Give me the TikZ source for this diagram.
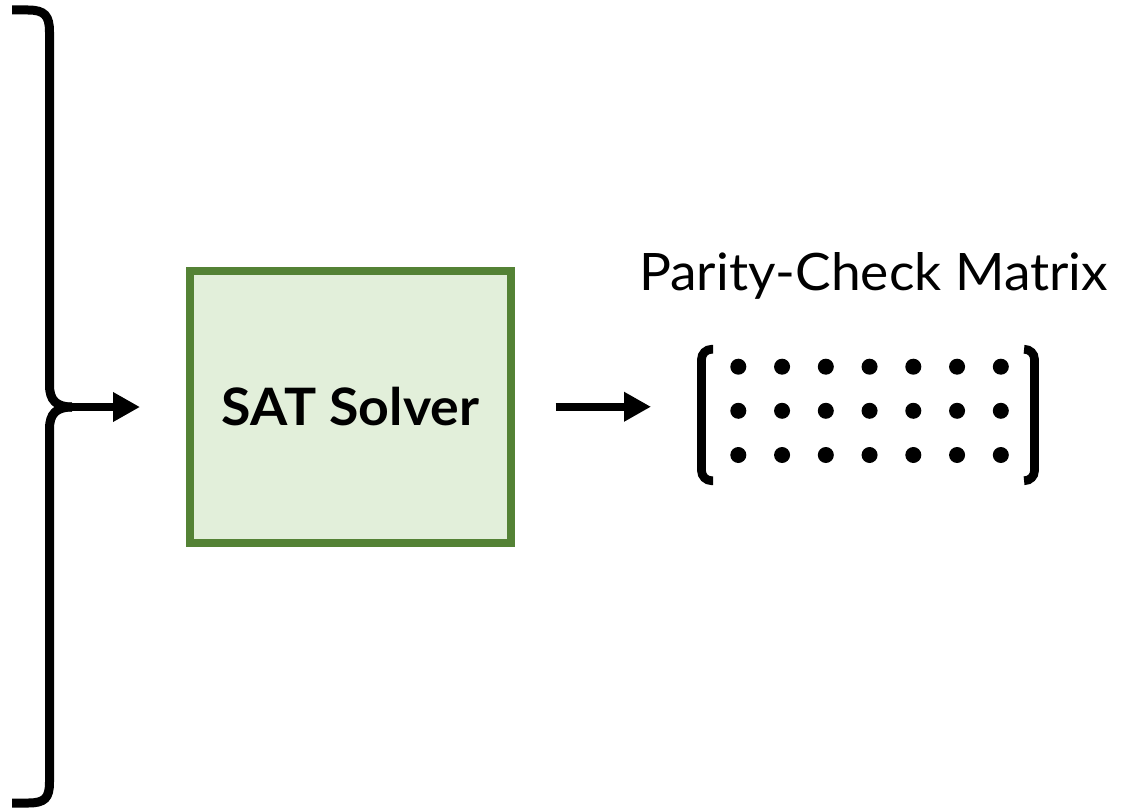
\documentclass[tikz,border=0pt]{standalone}
\usepackage{fontspec}
\setmainfont{Lato}
\usetikzlibrary{arrows.meta}
\definecolor{boxgreen}{HTML}{548235}
\definecolor{boxfill}{HTML}{E2EFDA}
\tikzset{
  solverbox/.style={draw=boxgreen, fill=boxfill, line width=8pt, minimum width=321pt, minimum height=271.5pt, inner sep=0pt, font=\bfseries\fontsize{51.6}{60}\selectfont},
  flowarrow/.style={line width=8pt, -{Triangle[length=27pt,width=28pt]}},
  bracestroke/.style={line width=9pt},
  bracketstroke/.style={line width=8.7pt, rounded corners=10pt},
  titlelabel/.style={anchor=base, inner sep=0pt, font=\fontsize{51.6}{60}\selectfont},
  matbox/.style={minimum width=346.5pt, minimum height=140pt, inner sep=0pt, outer sep=0pt}
}
\begin{document}
\begin{tikzpicture}[x=1pt,y=-1pt]
\useasboundingbox (0,0) rectangle (1123,808);
% brace
\draw[bracestroke] (12,10) -- (28,10) .. controls (45,10) and (49.5,16) .. (49.5,32) -- (49.5,385)
  .. controls (49.5,400) and (56,407) .. (72,407);
\draw[bracestroke] (72,407) .. controls (56,407) and (49.5,414) .. (49.5,429) -- (49.5,782)
  .. controls (49.5,798) and (45,803) .. (28,803) -- (12,803);
\coordinate (bt) at (70,407);
% solver
\node[solverbox] (solver) at (350.5,406.75) {\scalebox{1.04}[1]{SAT Solver}};
\draw[flowarrow, shorten >=46pt] (bt) -- (bt -| solver.west);
% matrix
\node[matbox] (mat) at (866.25,415) {};
\draw[flowarrow, shorten <=40.5pt, shorten >=42pt] (solver.east) -- (solver.east -| mat.west);
\draw[bracketstroke] (713,349.3) -- (701.5,349.3) -- (701.5,480.7) -- (713,480.7);
\draw[bracketstroke] (1025,349.3) -- (1034.5,349.3) -- (1034.5,480.7) -- (1025,480.7);
\foreach \r in {366.7,410.8,455} {
  \foreach \c in {0,...,6} {
    \fill (738.3+43.75*\c,\r) circle (8pt);
  }
}
\node[titlelabel] (title) at (873.5,290) {\scalebox{1.033}[1]{Parity-Check Matrix}};
\end{tikzpicture}
\end{document}
